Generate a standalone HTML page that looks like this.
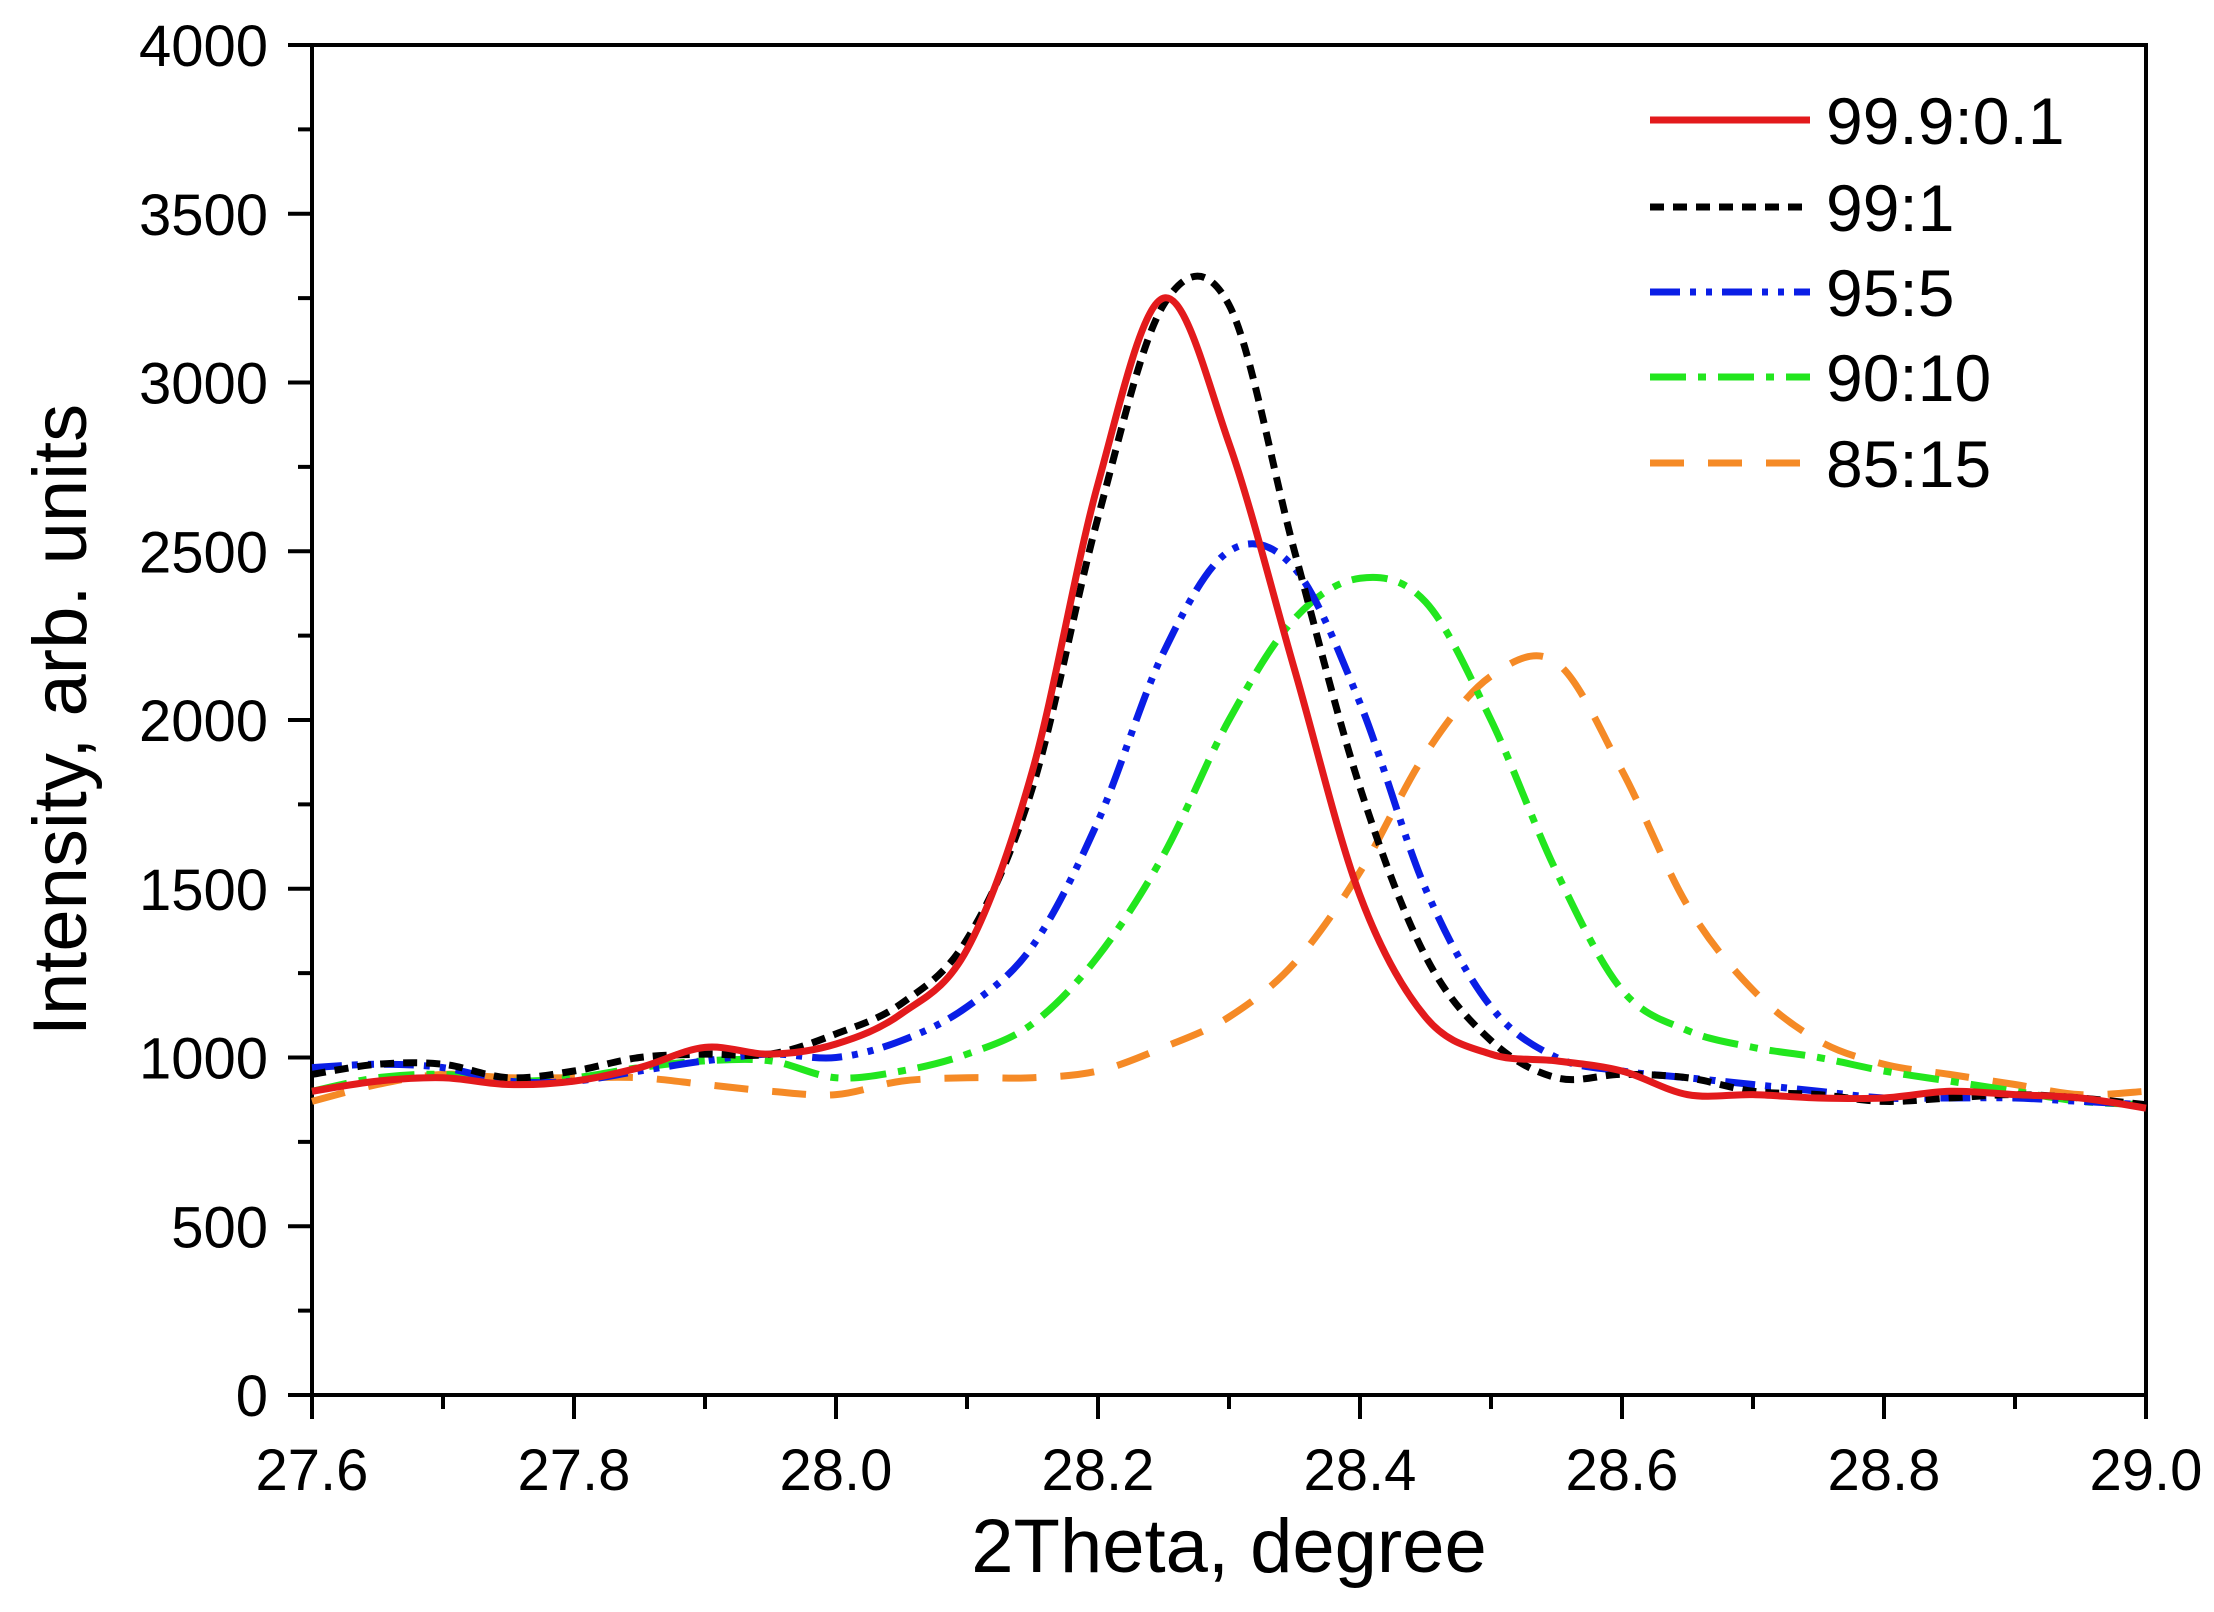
<!DOCTYPE html>
<html><head><meta charset="utf-8"><style>
html,body{margin:0;padding:0;background:#fff}
svg{display:block;font-family:"Liberation Sans",Arial,sans-serif}
</style></head><body>
<svg id="chart" width="2214" height="1612" viewBox="0 0 2214 1612">
<g id="axes"></g><g id="series"></g><g id="legend"></g>
</svg>
<script>
const xs=[27.6,27.65,27.7,27.75,27.8,27.85,27.9,27.95,28.0,28.05,28.1,28.15,28.2,28.25,28.3,28.35,28.4,28.45,28.5,28.55,28.6,28.65,28.7,28.75,28.8,28.85,28.9,28.95,29.0];
const s999=[900,930,940,920,930,970,1030,1010,1040,1130,1320,1850,2700,3250,2820,2150,1480,1120,1010,990,960,890,890,880,880,900,890,880,850];
const s99=[950,980,980,940,960,1000,1010,1010,1070,1160,1350,1800,2600,3230,3230,2500,1800,1300,1050,940,950,940,900,890,870,880,890,880,860];
const s95=[970,980,970,930,930,960,990,1010,1000,1050,1150,1330,1700,2200,2500,2450,2050,1500,1150,1000,960,940,920,900,880,880,880,870,860];
const s90=[900,940,950,930,940,970,990,990,940,960,1010,1100,1300,1600,2000,2300,2420,2350,2000,1550,1200,1080,1030,1000,960,930,900,870,860];
const s85=[870,920,950,940,940,940,920,900,890,930,940,940,960,1030,1120,1280,1550,1900,2130,2170,1850,1450,1200,1050,980,950,920,890,900];
const seriesNames=["99.9:0.1","99:1","95:5","90:10","85:15"];
const xTicks=[27.6,27.8,28.0,28.2,28.4,28.6,28.8,29.0];
const yTicks=[0,500,1000,1500,2000,2500,3000,3500,4000];

const L=312,R=2146,T=45,B=1395;
const X=v=>L+(v-27.6)/(29.0-27.6)*(R-L);
const Y=v=>B-v/4000*(B-T);
const NS="http://www.w3.org/2000/svg";
function mk(tag,attrs,parent){const e=document.createElementNS(NS,tag);for(const k in attrs)e.setAttribute(k,attrs[k]);parent.appendChild(e);return e;}
const axes=document.getElementById('axes');
const frame=mk('rect',{x:L,y:T,width:R-L,height:B-T,fill:'none',stroke:'#000','stroke-width':4},axes);


for(let v=27.6;v<=29.0001;v+=0.1){
  const major=xTicks.some(t=>Math.abs(t-v)<1e-6);
  const t=mk('line',{x1:X(v),x2:X(v),y1:B,y2:B+(major?24:14),stroke:'#000','stroke-width':4},axes);
  
  
}
xTicks.forEach(v=>{
  const t=mk('text',{x:X(v),y:1490,'font-size':58,'text-anchor':'middle'},axes);t.textContent=v.toFixed(1);
  
  
});
for(let v=0;v<=4000;v+=250){
  const major=v%500===0;
  const t=mk('line',{x1:L-(major?24:14),x2:L,y1:Y(v),y2:Y(v),stroke:'#000','stroke-width':4},axes);
  
  
}
yTicks.forEach(v=>{
  const t=mk('text',{x:268,y:Y(v)+21,'font-size':58,'text-anchor':'end'},axes);t.textContent=v;
  
  
});
const xt=mk('text',{x:(L+R)/2,y:1572,'font-size':76,'text-anchor':'middle'},axes);xt.textContent='2Theta, degree';


const yt=mk('text',{x:0,y:0,'font-size':76,'text-anchor':'middle',transform:`translate(86,${(T+B)/2}) rotate(-90)`},axes);yt.textContent='Intensity, arb. units';



const styles=[{c:'#e31a1c',d:''},{c:'#000',d:'14 9'},{c:'#0a1ee6',d:'30 10 6 10 6 10'},{c:'#22e61e',d:'36 12 8 12'},{c:'#f58a26',d:'34 24'}];
const data=[s999,s99,s95,s90,s85];
function pathFor(arr){
  const p=arr.map((v,i)=>[X(xs[i]),Y(v)]);
  let d=`M${p[0][0]},${p[0][1]}`;
  for(let i=0;i<p.length-1;i++){
    const p0=p[i-1]||p[i],p1=p[i],p2=p[i+1],p3=p[i+2]||p2;
    const c1=[p1[0]+(p2[0]-p0[0])/6,p1[1]+(p2[1]-p0[1])/6];
    const c2=[p2[0]-(p3[0]-p1[0])/6,p2[1]-(p3[1]-p1[1])/6];
    d+=` C${c1[0]},${c1[1]} ${c2[0]},${c2[1]} ${p2[0]},${p2[1]}`;
  }
  return d;
}
const sg=document.getElementById('series'),lg=document.getElementById('legend');
[4,3,2,1,0].forEach(i=>{
  const pth=mk('path',{d:pathFor(data[i]),fill:'none',stroke:styles[i].c,'stroke-width':7,'stroke-dasharray':styles[i].d,'stroke-linejoin':'round'},sg);
  
  
});
const ly=[120,207,292,377,463];
seriesNames.forEach((n,i)=>{
  const ln=mk('line',{x1:1650,x2:1810,y1:ly[i],y2:ly[i],stroke:styles[i].c,'stroke-width':7,'stroke-dasharray':styles[i].d},lg);
  
  
  const t=mk('text',{x:1826,y:ly[i]+24,'font-size':66},lg);t.textContent=n;
  
  
});
</script>
</body></html>
